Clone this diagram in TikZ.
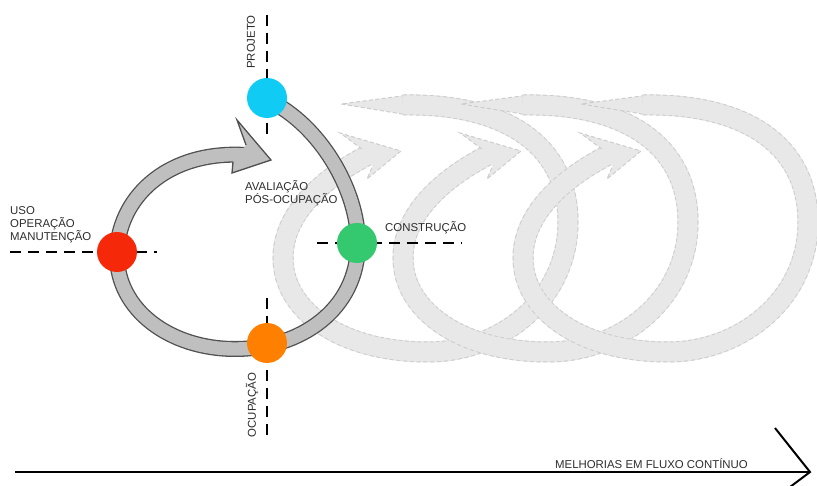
\documentclass[tikz,border=0pt]{standalone}
\usepackage{fontspec}
\setmainfont{Liberation Sans}
\definecolor{projetocol}{RGB}{16,204,244}
\definecolor{construcaocol}{RGB}{52,201,110}
\definecolor{ocupacaocol}{RGB}{255,128,0}
\definecolor{usocol}{RGB}{245,40,10}
\definecolor{ringfill}{RGB}{191,191,191}
\definecolor{ringedge}{RGB}{80,80,80}
\definecolor{ghostfill}{RGB}{232,232,232}
\definecolor{ghostedge}{RGB}{205,205,205}
\definecolor{textcol}{RGB}{45,45,45}
\tikzset{
  stage/.style={circle, minimum size=40pt, inner sep=0pt},
  axisline/.style={line width=1.8pt, dash pattern=on 11pt off 7pt},
  ringband/.style={preaction={draw, ringedge, line width=16pt},
                   postaction={draw, ringfill, line width=13.4pt}},
  ghostband/.style={preaction={draw, ghostfill, line width=21pt},
                    preaction={draw, ghostedge, line width=21pt, dash pattern=on 4pt off 2.5pt},
                    postaction={draw, ghostfill, line width=19pt}},
  ghostline/.style={ghostedge, line width=1pt, dash pattern=on 4pt off 2.5pt},
  phase text/.style={font=\fontsize{11.4}{13}\selectfont, text=textcol, inner sep=0pt},
}
\begin{document}
\begin{tikzpicture}[x=1pt, y=-1pt]
\useasboundingbox (0,0) rectangle (817,486);
% faded loops in the background
\foreach \s in {0,120,240} {
  \begin{scope}[shift={(\s,0)}]
    \fill[ghostfill] (341,104) -- (405,95.5) -- (405,114.5) -- cycle;
    \draw[ghostline] (405,95.5) -- (341,104) -- (405,114.5);
    \path[ghostband] (403,105) .. controls (505,103) and (568,145) .. (568,222)
      .. controls (568,300) and (500,352) .. (428,352)
      .. controls (340,352) and (283,310) .. (283,258)
      .. controls (283,215) and (320,180) .. (368,155);
    \fill[ghostfill] (362,149) -- (340,133) -- (401,151) -- (367,179) -- (373,165) -- cycle;
    \draw[ghostline] (362,149) -- (340,133) -- (401,151) -- (367,179) -- (373,165);
  \end{scope}
}
% main loop
\path[ringband] (268,100) .. controls (320,125) and (358,190) .. (358,243)
  .. controls (358,310) and (300,349) .. (235,349)
  .. controls (170,349) and (117,310) .. (117,255)
  .. controls (117,200) and (165,150) .. (246,155);
\fill[ringfill] (246,145) -- (237,120) -- (271,160) -- (232,173) -- (233,162) -- cycle;
\draw[ringedge, line width=1.3pt] (246,145) -- (237,120) -- (271,160) -- (232,173) -- (233,162);
% dashed axes
\coordinate (projeto top) at (267,15);
\coordinate (projeto end) at (267,137);
\coordinate (ocupacao top) at (267,298);
\coordinate (ocupacao end) at (267,442);
\coordinate (uso start) at (10,252);
\coordinate (uso end) at (157,252);
\coordinate (construcao start) at (317,243);
\coordinate (construcao end) at (462,243);
\draw[axisline] (projeto top) -- (projeto end);
\draw[axisline] (ocupacao top) -- (ocupacao end);
\draw[axisline] (uso start) -- (uso end);
\draw[axisline] (construcao start) -- (construcao end);
% stages
\node[stage, fill=projetocol] (projeto) at (267,98) {};
\node[stage, fill=construcaocol] (construcao) at (357,243) {};
\node[stage, fill=ocupacaocol] (ocupacao) at (267,343) {};
\node[stage, fill=usocol] (uso) at (117,252) {};
% labels
\node[phase text, rotate=90] (projeto label) at (251,42) {PROJETO};
\node[phase text, rotate=90] (ocupacao label) at (252,405) {OCUPAÇÃO};
\node[phase text, align=left, anchor=north west] (apo label) at (245,180) {AVALIAÇÃO\\PÓS-OCUPAÇÃO};
\node[phase text, anchor=base west] (construcao label) at (385,232) {CONSTRUÇÃO};
\node[phase text, align=left, anchor=north west] (uso label) at (10,206.5) {USO\\OPERAÇÃO\\MANUTENÇÃO};
% continuous improvement arrow
\coordinate (flow start) at (15,472);
\coordinate (flow tip) at (810,472);
\coordinate (head top) at (775,428);
\coordinate (head bottom) at (790,487);
\draw[line width=2pt] (flow start) -- (flow tip);
\draw[line width=2pt] (head top) -- (flow tip) -- (head bottom);
\node[phase text, anchor=base west] (flow label) at (555,468.5) {MELHORIAS EM FLUXO CONTÍNUO};
\end{tikzpicture}
\end{document}
